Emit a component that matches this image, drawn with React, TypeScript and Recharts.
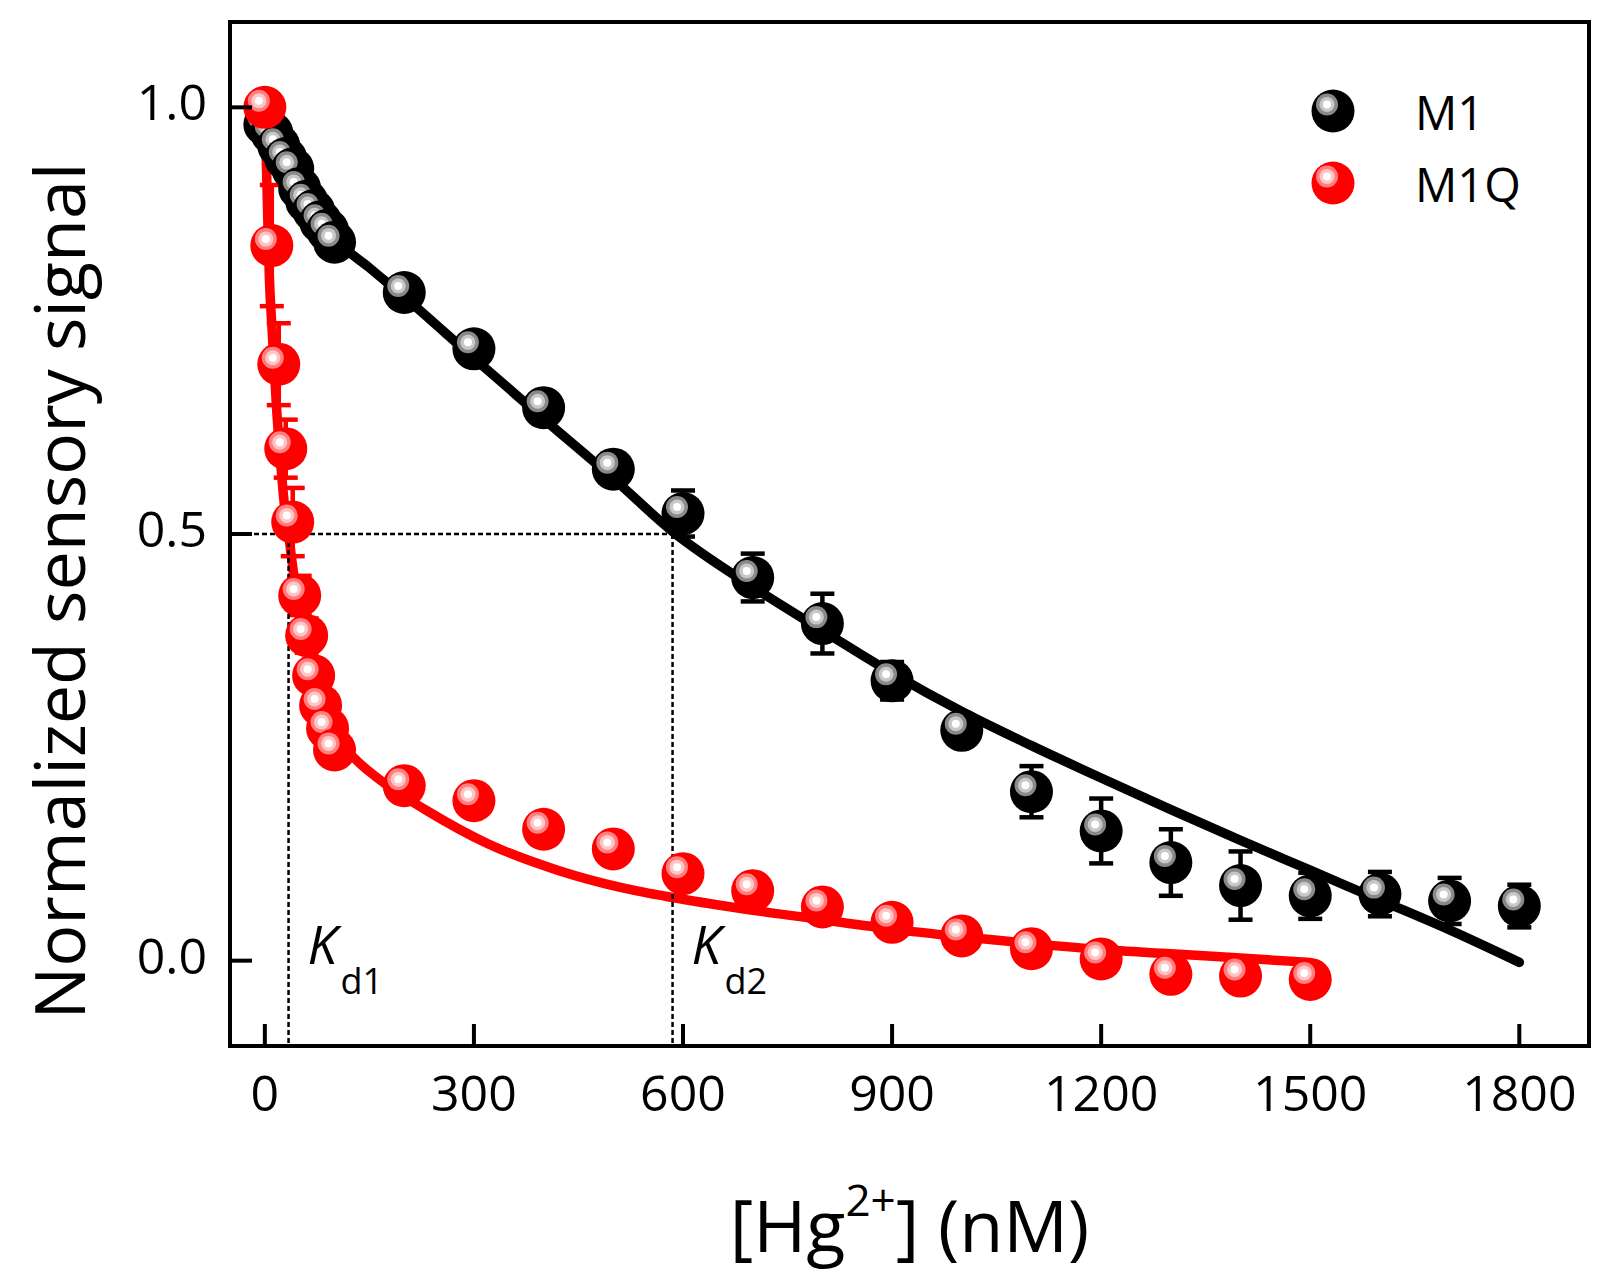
import React from 'react';
import {
  ComposedChart,
  XAxis,
  YAxis,
  Scatter,
  Line,
  ErrorBar,
  ReferenceLine,
  ReferenceDot,
  ReferenceArea,
  Legend,
} from 'recharts';

// ---------- data ----------
const SERIES_NAMES = ['M1', 'M1Q'];

const M1_X = [0, 10, 20, 30, 40, 50, 60, 70, 80, 90, 100, 200, 300, 400, 500, 600, 700, 800, 900, 1000, 1100, 1200, 1300, 1400, 1500, 1600, 1700, 1800];
const M1_Y = [0.98, 0.97, 0.955, 0.94, 0.928, 0.905, 0.89, 0.879, 0.866, 0.856, 0.842, 0.783, 0.717, 0.648, 0.576, 0.524, 0.449, 0.395, 0.328, 0.27, 0.198, 0.152, 0.115, 0.088, 0.076, 0.078, 0.07, 0.064];
const M1_ERR = [0.01, 0.012, 0.015, 0.015, 0.012, 0.012, 0.012, 0.012, 0.01, 0.012, 0.01, 0.008, 0.008, 0.008, 0.008, 0.027, 0.028, 0.035, 0.022, 0.013, 0.03, 0.038, 0.039, 0.04, 0.027, 0.026, 0.027, 0.025];

const M1Q_X = [0, 10, 20, 30, 40, 50, 60, 70, 80, 90, 100, 200, 300, 400, 500, 600, 700, 800, 900, 1000, 1100, 1200, 1300, 1400, 1500];
const M1Q_Y = [1.0, 0.838, 0.699, 0.6, 0.514, 0.428, 0.381, 0.334, 0.299, 0.272, 0.247, 0.205, 0.1875, 0.154, 0.131, 0.102, 0.082, 0.063, 0.045, 0.029, 0.014, 0.002, -0.016, -0.018, -0.022];
const M1Q_ERR = [0.012, 0.071, 0.048, 0.034, 0.04, 0.023, 0.02, 0.015, 0.01, 0.01, 0.01, 0.005, 0.005, 0.005, 0.005, 0.005, 0.005, 0.005, 0.005, 0.005, 0.005, 0.005, 0.005, 0.005, 0.005];

const M1_FIT_X = [0, 25, 50, 75, 100, 150, 200, 300, 400, 500, 585, 700, 800, 900, 1000, 1100, 1200, 1300, 1400, 1500, 1600, 1700, 1800];
const M1_FIT_Y = [0.99, 0.95, 0.915, 0.88, 0.848, 0.812, 0.778, 0.706, 0.635, 0.565, 0.503, 0.438, 0.387, 0.337, 0.292, 0.252, 0.214, 0.177, 0.141, 0.106, 0.071, 0.036, -0.002];

const M1Q_FIT_X = [0, 3, 6.5, 10, 17, 23, 29, 34, 41, 50, 60, 70, 80, 90, 100, 130, 180, 230, 320, 420, 515, 585, 660, 800, 900, 1000, 1100, 1200, 1300, 1400, 1500];
const M1Q_FIT_Y = [1.0, 0.91, 0.8, 0.745, 0.645, 0.58, 0.527, 0.5, 0.455, 0.41, 0.372, 0.34, 0.313, 0.288, 0.264, 0.236, 0.203, 0.177, 0.137, 0.106, 0.085, 0.074, 0.064, 0.048, 0.037, 0.028, 0.02, 0.013, 0.008, 0.003, -0.002];

const KD_VALUES = [34, 585];
const KD_SUBS = ['d1', 'd2'];
const HALF_SIGNAL = 0.5;

const X_TICKS = [0, 300, 600, 900, 1200, 1500, 1800];
const Y_TICKS = [0, 0.5, 1.0];
const X_DOMAIN = [-50, 1900];
const Y_DOMAIN = [-0.1, 1.1];

// ---------- derived tables ----------
const m1Data = M1_X.map((x, i) => ({ x, y: M1_Y[i], err: M1_ERR[i] }));
const m1qData = M1Q_X.map((x, i) => ({ x, y: M1Q_Y[i], err: M1Q_ERR[i] }));
const m1Fit = M1_FIT_X.map((x, i) => ({ x, y: M1_FIT_Y[i] }));
const m1qFit = M1Q_FIT_X.map((x, i) => ({ x, y: M1Q_FIT_Y[i] }));

// ---------- styling ----------
const FONT = '"Open Sans", "DejaVu Sans", sans-serif';
const W = 1615;
const H = 1283;
const PLOT_LEFT = 230;
const PLOT_TOP = 22;
const PLOT_RIGHT = 1589;
const PLOT_BOTTOM = 1046;

const BLACK_BALL = { base: '#000000', ring: '#8a8a8a', light: '#c8c8c8' };
const RED_BALL = { base: '#ff0000', ring: '#ff8080', light: '#ffc4c4' };

function Ball(props: any) {
  const { cx, cy, colors } = props;
  if (cx == null || cy == null) return <g />;
  const hx = cx - 6;
  const hy = cy - 6.5;
  return (
    <g>
      <circle cx={cx} cy={cy} r={21.5} fill={colors.base} />
      <circle cx={hx} cy={hy} r={11} fill={colors.ring} />
      <circle cx={hx} cy={hy} r={7.5} fill={colors.light} />
      <circle cx={hx} cy={hy} r={4} fill="#ffffff" />
    </g>
  );
}

const Empty = () => <g />;

function XTick(props: any) {
  const { x, y, payload } = props;
  return (
    <g>
      <line x1={x} x2={x} y1={y} y2={y - 22} stroke="#000" strokeWidth={4} />
      <text x={x} y={y + 65} textAnchor="middle" fontSize={50} fontFamily={FONT} fill="#000">
        {payload.value}
      </text>
    </g>
  );
}

function YTick(props: any) {
  const { x, y, payload } = props;
  return (
    <g>
      <line x1={x} x2={x + 22} y1={y} y2={y} stroke="#000" strokeWidth={4} />
      <text x={x - 23} y={y + 13} textAnchor="end" fontSize={50} fontFamily={FONT} fill="#000">
        {Number(payload.value).toFixed(1)}
      </text>
    </g>
  );
}

function XLabel(props: any) {
  const vb = props.viewBox || {};
  const cx = (vb.x ?? PLOT_LEFT) + (vb.width ?? PLOT_RIGHT - PLOT_LEFT) / 2;
  const baseY = (vb.y ?? PLOT_BOTTOM) + 206;
  return (
    <text x={cx} y={baseY} textAnchor="middle" fontSize={72} fontFamily={FONT} fill="#000">
      <tspan>[Hg</tspan>
      <tspan fontSize={44} dy={-36}>2+</tspan>
      <tspan dy={36}>] (nM)</tspan>
    </text>
  );
}

function YLabel(props: any) {
  const vb = props.viewBox || {};
  const x = (vb.x ?? 0) + 85;
  const y = 591;
  return (
    <text
      x={x}
      y={y}
      transform={`rotate(-90, ${x}, ${y})`}
      textAnchor="middle"
      fontSize={70}
      fontFamily={FONT}
      fill="#000"
    >
      Normalized sensory signal
    </text>
  );
}

function KdLabel(props: any) {
  const { cx, cy, sub } = props;
  if (cx == null) return <g />;
  return (
    <g>
      <text x={cx + 19} y={cy + 3} fontSize={53} fontStyle="italic" fontFamily={FONT} fill="#000">
        K
      </text>
      <text x={cx + 52} y={cy + 33} fontSize={36} fontFamily={FONT} fill="#000">
        {sub}
      </text>
    </g>
  );
}

function LegendBox() {
  const items = [
    { name: SERIES_NAMES[0], colors: BLACK_BALL },
    { name: SERIES_NAMES[1], colors: RED_BALL },
  ];
  return (
    <svg width={260} height={150} style={{ display: 'block', overflow: 'visible' }}>
      {items.map((it, i) => (
        <g key={it.name}>
          <Ball cx={43} cy={31 + i * 72} colors={it.colors} />
          <text x={125} y={50 + i * 72} fontSize={47} fontFamily={FONT} fill="#000">
            {it.name}
          </text>
        </g>
      ))}
    </svg>
  );
}

export default function App() {
  return (
    <div style={{ position: 'absolute', left: 0, top: 0, width: W, height: H, background: '#fff' }}>
      <ComposedChart
        width={W}
        height={H}
        margin={{ top: PLOT_TOP, right: W - PLOT_RIGHT, bottom: 0, left: 0 }}
      >
        <XAxis
          dataKey="x"
          type="number"
          domain={X_DOMAIN}
          ticks={X_TICKS}
          interval={0}
          allowDataOverflow
          height={H - PLOT_BOTTOM}
          tickSize={0}
          tickMargin={0}
          tickLine={false}
          axisLine={{ stroke: '#000', strokeWidth: 4 }}
          tick={<XTick />}
          label={<XLabel />}
        />
        <YAxis
          dataKey="y"
          type="number"
          domain={Y_DOMAIN}
          ticks={Y_TICKS}
          interval={0}
          allowDataOverflow
          width={PLOT_LEFT}
          tickSize={0}
          tickMargin={0}
          tickLine={false}
          axisLine={{ stroke: '#000', strokeWidth: 4 }}
          tick={<YTick />}
          label={<YLabel />}
        />
        <ReferenceArea
          x1={X_DOMAIN[0]}
          x2={X_DOMAIN[1]}
          y1={Y_DOMAIN[0]}
          y2={Y_DOMAIN[1]}
          fill="none"
          fillOpacity={0}
          stroke="#000"
          strokeWidth={4}
          ifOverflow="visible"
        />
        <Legend
          layout="vertical"
          align="center"
          verticalAlign="middle"
          wrapperStyle={{ left: 1290, top: 80, width: 260, height: 150 }}
          content={() => <LegendBox />}
        />

        {/* M1 (black) */}
        <Scatter
          name="M1"
          data={m1Data}
          isAnimationActive={false}
          shape={(p: any) => <Ball {...p} colors={BLACK_BALL} />}
        />
        <Scatter name="M1-err" data={m1Data} isAnimationActive={false} shape={Empty} legendType="none">
          <ErrorBar dataKey="err" direction="y" width={12} stroke="#000" strokeWidth={4.5} isAnimationActive={false} />
        </Scatter>
        <Line
          data={m1Fit}
          dataKey="y"
          type="monotone"
          stroke="#000"
          strokeWidth={9.5}
          strokeLinecap="round"
          dot={false}
          activeDot={false}
          isAnimationActive={false}
          legendType="none"
        />

        {/* M1Q (red) */}
        <Scatter
          name="M1Q"
          data={m1qData}
          isAnimationActive={false}
          shape={(p: any) => <Ball {...p} colors={RED_BALL} />}
        />
        <Scatter name="M1Q-err" data={m1qData} isAnimationActive={false} shape={Empty} legendType="none">
          <ErrorBar dataKey="err" direction="y" width={12} stroke="#ff0000" strokeWidth={4.5} isAnimationActive={false} />
        </Scatter>
        <Line
          data={m1qFit}
          dataKey="y"
          type="monotone"
          stroke="#ff0000"
          strokeWidth={9.5}
          strokeLinecap="round"
          dot={false}
          activeDot={false}
          isAnimationActive={false}
          legendType="none"
        />

        {/* Kd guide lines */}
        <ReferenceLine
          segment={[{ x: X_DOMAIN[0], y: HALF_SIGNAL }, { x: KD_VALUES[1], y: HALF_SIGNAL }]}
          stroke="#000"
          strokeWidth={2.5}
          strokeDasharray="5 3"
          ifOverflow="visible"
        />
        {KD_VALUES.map((kd) => (
          <ReferenceLine
            key={`kdl-${kd}`}
            segment={[{ x: kd, y: HALF_SIGNAL }, { x: kd, y: Y_DOMAIN[0] }]}
            stroke="#000"
            strokeWidth={2.5}
            strokeDasharray="5 3"
            ifOverflow="visible"
          />
        ))}
        {KD_VALUES.map((kd, i) => (
          <ReferenceDot
            key={`kdt-${kd}`}
            x={kd}
            y={0}
            r={0}
            ifOverflow="visible"
            shape={(p: any) => <KdLabel cx={p.cx} cy={p.cy} sub={KD_SUBS[i]} />}
          />
        ))}
      </ComposedChart>
    </div>
  );
}
